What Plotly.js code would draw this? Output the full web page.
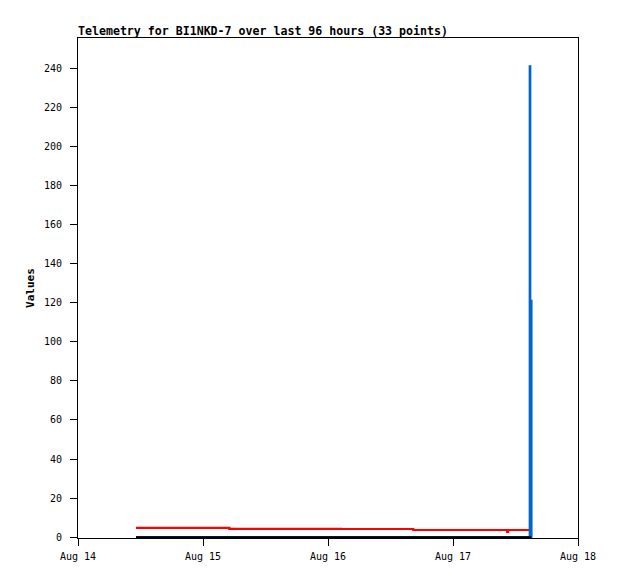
<!DOCTYPE html>
<html>
<head>
<meta charset="utf-8">
<script src="https://cdn.plot.ly/plotly-3.0.1.min.js"></script>
<style>html,body{margin:0;padding:0;background:#fff;}</style>
</head>
<body>
<div id="chart" style="width:618px;height:579px;"></div>
<script>
const times = [
  "2024-08-14 11:08", "2024-08-14 14:20", "2024-08-14 17:35", "2024-08-14 21:02",
  "2024-08-15 00:15", "2024-08-15 03:40", "2024-08-15 05:03", "2024-08-15 08:30",
  "2024-08-15 12:10", "2024-08-15 15:45", "2024-08-15 19:20", "2024-08-15 22:55",
  "2024-08-16 02:30", "2024-08-16 06:05", "2024-08-16 09:40", "2024-08-16 13:15",
  "2024-08-16 16:22", "2024-08-16 19:00", "2024-08-16 21:30", "2024-08-17 00:05",
  "2024-08-17 02:40", "2024-08-17 05:10", "2024-08-17 07:45", "2024-08-17 10:24",
  "2024-08-17 10:34", "2024-08-17 12:15", "2024-08-17 13:30", "2024-08-17 14:10",
  "2024-08-17 14:30", "2024-08-17 14:44", "2024-08-17 14:50", "2024-08-17 14:59",
  "2024-08-17 15:04"
];
const redValues = [
  4.8, 4.8, 4.8, 4.8, 4.8, 4.8, 4.3, 4.3,
  4.3, 4.3, 4.3, 4.3, 4.2, 4.2, 4.2, 4.2,
  3.7, 3.7, 3.7, 3.7, 3.7, 3.7, 3.7, 2.7,
  3.7, 3.7, 3.7, 3.7, 3.7, 3.7, 3.7, 3.7,
  3.7
];
const blueValues = [
  0, 0, 0, 0, 0, 0, 0, 0,
  0, 0, 0, 0, 0, 0, 0, 0,
  0, 0, 0, 0, 0, 0, 0, 0,
  0, 0, 0, 0, 0, 241, 0, 121,
  0
];
const blackValues = [
  0, 0, 0, 0, 0, 0, 0, 0,
  0, 0, 0, 0, 0, 0, 0, 0,
  0, 0, 0, 0, 0, 0, 0, 0,
  0, 0, 0, 0, 0, 0, 0, 0,
  0
];
const xTickVals = ["2024-08-14", "2024-08-15", "2024-08-16", "2024-08-17", "2024-08-18"];
const xTickText = ["Aug 14", "Aug 15", "Aug 16", "Aug 17", "Aug 18"];
const titleText = "Telemetry for BI1NKD-7 over last 96 hours (33 points)";

const mono = "DejaVu Sans Mono, Liberation Mono, monospace";

const traces = [
  {x: times, y: redValues, mode: "lines", line: {color: "#ff0000", width: 2.2, shape: "hv"}, hoverinfo: "skip"},
  {x: times, y: blueValues, mode: "lines", line: {color: "#0066cc", width: 2.2, shape: "hv"}, hoverinfo: "skip"},
  {x: times, y: blackValues, mode: "lines", line: {color: "#000000", width: 2, shape: "hv"}, hoverinfo: "skip"}
];

const layout = {
  width: 618, height: 579,
  margin: {l: 78, r: 40, t: 38, b: 41, pad: 0},
  paper_bgcolor: "#ffffff", plot_bgcolor: "#ffffff",
  showlegend: false,
  font: {family: mono, size: 10, color: "#000"},
  title: {
    text: "<b>" + titleText + "</b>",
    font: {family: mono, size: 11.6, color: "#000"},
    x: 0, xref: "paper", xanchor: "left",
    y: 1 - 31/579, yref: "container", yanchor: "middle"
  },
  xaxis: {
    type: "date",
    range: ["2024-08-14 00:00", "2024-08-18 00:00"],
    tickvals: xTickVals, ticktext: xTickText,
    ticks: "outside", ticklen: 7, tickwidth: 1, tickcolor: "#000",
    showline: true, linecolor: "#000", linewidth: 1, mirror: true,
    showgrid: false, zeroline: false,
    tickfont: {family: mono, size: 10, color: "#000"},
    ticklabelstandoff: 2
  },
  yaxis: {
    range: [-0.4, 255.5],
    tick0: 0, dtick: 20,
    ticks: "outside", ticklen: 7, tickwidth: 1, tickcolor: "#000",
    showline: true, linecolor: "#000", linewidth: 1, mirror: true,
    showgrid: false, zeroline: false,
    tickfont: {family: mono, size: 10, color: "#000"},
    ticklabelstandoff: 6,
    title: {text: "<b>Values</b>", font: {family: mono, size: 11, color: "#000"}, standoff: 7},
    automargin: false
  }
};

Plotly.newPlot("chart", traces, layout, {staticPlot: true, displayModeBar: false});
</script>
</body>
</html>
